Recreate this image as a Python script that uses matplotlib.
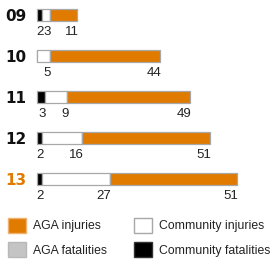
import matplotlib.pyplot as plt
from matplotlib.patches import Patch

plt.rcParams['font.family'] = ['Liberation Sans', 'DejaVu Sans']

# data
years = ['09', '10', '11', '12', '13']
comm_fatal = [2, 0, 3, 2, 2]
comm_inj = [3, 5, 9, 16, 27]
aga_fatal = [0, 0, 0, 0, 0]
aga_inj = [11, 44, 49, 51, 51]

orange = '#e07b00'
edge = '#a8a8a8'

fig = plt.figure(figsize=(2.73, 2.66), dpi=100)
ax = fig.add_axes([0, 0, 1, 1])
# 2.5 px per unit, bars start at x=37px; rows every 41px starting at y=15px
ax.set_xlim(-37 / 2.5, (273 - 37) / 2.5)
ax.set_ylim((266 - 15) / 41, -15 / 41)
ax.axis('off')

rows = range(len(years))
h = 0.27
left = [0] * len(years)
for vals, col in [(comm_fatal, 'black'), (comm_inj, 'white'), (aga_fatal, '#c4c4c4'), (aga_inj, orange)]:
    ax.barh(rows, vals, left=left, height=h, color=col, edgecolor=edge, linewidth=0.9)
    left = [l + v for l, v in zip(left, vals)]

# labels under the bars, right aligned at the segment end
for i in rows:
    cum = 0
    for vals in (comm_fatal, comm_inj, aga_inj):
        cum += vals[i]
        if vals[i] > 0:
            ax.text(cum + 0.6, i + 0.28, str(vals[i]), ha='right', va='top',
                    fontsize=9.5, color='#222222')
    ax.text(-4.2, i + 0.04, years[i], ha='right', va='center', fontsize=11,
            fontweight='bold', family='DejaVu Sans',
            color=orange if years[i] == '13' else '#111111')

col1 = [
    Patch(facecolor=orange, edgecolor='#f0b070', label='AGA injuries'),
    Patch(facecolor='#c4c4c4', edgecolor='#b8b8b8', label='AGA fatalities'),
]
col2 = [
    Patch(facecolor='white', edgecolor=edge, label='Community injuries'),
    Patch(facecolor='black', edgecolor='#333333', label='Community fatalities'),
]
kw = dict(loc='upper left', frameon=False, fontsize=8.8, handlelength=1.45, handleheight=1.45,
          handletextpad=0.6, labelspacing=0.8, borderpad=0, borderaxespad=0,
          labelcolor='#222222')
leg1 = fig.legend(handles=col1, bbox_to_anchor=(8 / 273, 1 - 218 / 266), **kw)
leg2 = fig.legend(handles=col2, bbox_to_anchor=(134 / 273, 1 - 218 / 266), **kw)

fig.savefig('out.png', dpi=100)
